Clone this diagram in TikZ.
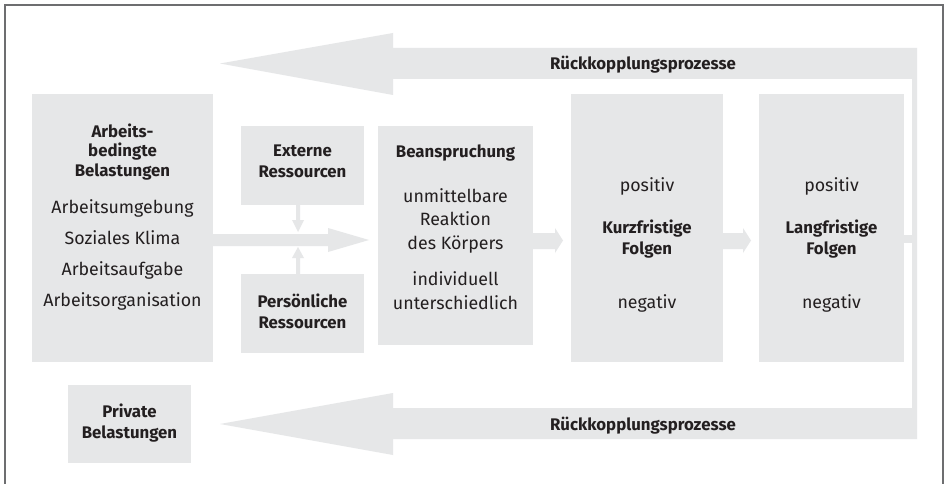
\documentclass[tikz,border=0pt]{standalone}
\usepackage{fontspec}
\setmainfont{Fira Sans}
\usetikzlibrary{calc}
\definecolor{boxgray}{HTML}{E6E7E8}
\definecolor{txt}{HTML}{231F20}
\definecolor{framecol}{HTML}{6D6E70}
\tikzset{
  box/.style={fill=boxgray, draw=none, inner sep=0pt, outer sep=0pt},
  hd/.style={font=\bfseries\fontsize{16.8}{21}\selectfont, align=center, anchor=base, text=txt, inner sep=0pt},
  tx/.style={font=\fontsize{17.8}{23.5}\selectfont, align=center, anchor=base, text=txt, inner sep=0pt},
  lst/.style={font=\fontsize{17.8}{30.7}\selectfont, align=center, anchor=base, text=txt, inner sep=0pt},
  flow/.style={fill=boxgray, draw=none}
}
\begin{document}
\begin{tikzpicture}[x=1pt,y=-1pt]
\useasboundingbox (0,0) rectangle (945,484);
\fill[white] (0,0) rectangle (945,484);
\draw[framecol, line width=2pt] (5,5) rectangle (942.5,500);

% boxes
\node[box, minimum width=181pt, minimum height=268pt] (arb) at (122.5,228) {};
\node[box, minimum width=123pt, minimum height=79pt] (ext) at (302.5,165.5) {};
\node[box, minimum width=123pt, minimum height=79pt] (per) at (302.5,313.5) {};
\node[box, minimum width=155pt, minimum height=219pt] (bea) at (455.5,235.5) {};
\node[box, minimum width=152pt, minimum height=268pt] (kurz) at (647,228) {};
\node[box, minimum width=145pt, minimum height=268pt] (lang) at (831.5,228) {};
\node[box, minimum width=123pt, minimum height=78pt] (priv) at (129.5,424) {};

% feedback loop
\coordinate (fbtop) at (220,63.5);
\coordinate (fbbot) at (220,424);
\fill[flow] (fbtop) -- (393,33) -- (393,48) -- (917,48) -- (917,439) -- (393,439)
  -- (393,455) -- (fbbot) -- (393,393) -- (393,408) -- (912,408) -- (912,79)
  -- (393,79) -- (393,95) -- cycle;

% arrows
\fill[flow] (arb.east |- 0,234) -- (328,234) -- (328,228) -- (369,240) -- (328,252)
  -- (328,246) -- (arb.east |- 0,246) -- cycle;
\fill[flow] (ext.south -| 296,0) -- (296,220) -- (292,220) -- (298,232) -- (304,220)
  -- (300,220) -- (ext.south -| 300,0) -- cycle;
\fill[flow] (per.north -| 296,0) -- (296,258) -- (292,258) -- (298,247) -- (304,258)
  -- (300,258) -- (per.north -| 300,0) -- cycle;
\fill[flow] (bea.east |- 0,233) -- (555,233) -- (555,228) -- (563,240.5) -- (555,253)
  -- (555,249) -- (bea.east |- 0,249) -- cycle;
\fill[flow] (kurz.east |- 0,233) -- (743,233) -- (743,228) -- (751,240.5) -- (743,253)
  -- (743,249) -- (kurz.east |- 0,249) -- cycle;
\fill[flow] (lang.east |- 0,235) rectangle (912,243);

% texts (anchor base = baseline of the last line)
\node[hd] (fbt) at (643,69.5) {Rückkopplungsprozesse};
\node[hd] (fbb) at (643,430.5) {Rückkopplungsprozesse};

\node[hd, font=\bfseries\fontsize{16.8}{19.5}\selectfont] (arbh) at (122.5,176) {Arbeits-\\bedingte\\Belastungen};
\node[lst] (arbl) at (122.5,306) {Arbeitsumgebung\\Soziales Klima\\Arbeitsaufgabe\\Arbeitsorganisation};

\node[hd] (extt) at (302.5,177.5) {Externe\\Ressourcen};
\node[hd] (pert) at (302.5,328.5) {Persönliche\\Ressourcen};

\node[hd] (beah) at (455.5,157.5) {Beanspruchung};
\node[tx] (bea1) at (455.5,249) {unmittelbare\\Reaktion\\des Körpers};
\node[tx] (bea2) at (455.5,309) {individuell\\unterschiedlich};

\node[tx] (kpos) at (647,191) {positiv};
\node[hd] (kh) at (647,254.5) {Kurzfristige\\Folgen};
\node[tx] (kneg) at (647,308) {negativ};

\node[tx] (lpos) at (831.5,191) {positiv};
\node[hd] (lh) at (831.5,254.5) {Langfristige\\Folgen};
\node[tx] (lneg) at (831.5,308) {negativ};

\node[hd] (privt) at (129.5,438.5) {Private\\Belastungen};
\end{tikzpicture}
\end{document}
